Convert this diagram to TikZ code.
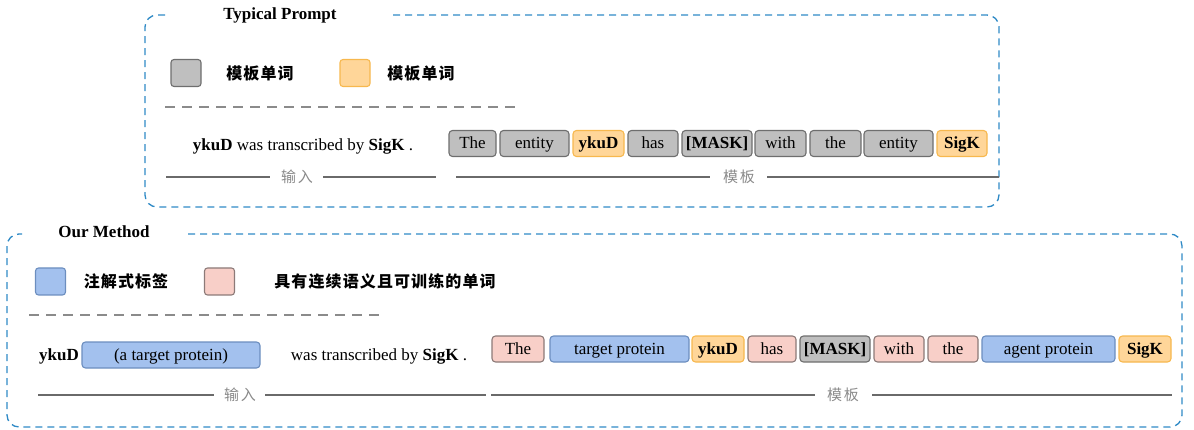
\documentclass[tikz,border=0pt]{standalone}
\usepackage{fontspec}
\setmainfont{Liberation Serif}
\newfontfamily\cjk{Noto Sans CJK SC}
\newfontfamily\cjksp[LetterSpace=7]{Noto Sans CJK SC}
\newfontfamily\cjklab[LetterSpace=12]{Noto Sans CJK SC}
\definecolor{frameblue}{HTML}{2F8AC6}
\definecolor{gfill}{HTML}{BFBFBF}
\definecolor{gdraw}{HTML}{6E6E6E}
\definecolor{ofill}{HTML}{FFD699}
\definecolor{odraw}{HTML}{F7B84E}
\definecolor{bfill}{HTML}{A3C1EE}
\definecolor{bdraw}{HTML}{6C8EBF}
\definecolor{pfill}{HTML}{F8CFC8}
\definecolor{pdraw}{HTML}{8C7A78}
\definecolor{linegray}{HTML}{6A6A6A}
\definecolor{labgray}{HTML}{8A8A8A}
\tikzset{
  frame/.style={draw=frameblue,line width=1.3pt,dash pattern=on 7pt off 5pt,rounded corners=12pt},
  title/.style={font=\fontsize{17}{20}\selectfont\bfseries,inner sep=0pt},
  tokbase/.style={rounded corners=3.5pt,line width=1.1pt,minimum height=26pt,inner sep=0pt,text height=12pt,text depth=1pt,font=\fontsize{17}{20}\selectfont},
  gtok/.style={tokbase,fill=gfill,draw=gdraw},
  otok/.style={tokbase,fill=ofill,draw=odraw,font=\fontsize{17}{20}\selectfont\bfseries},
  btok/.style={tokbase,fill=bfill,draw=bdraw},
  ptok/.style={tokbase,fill=pfill,draw=pdraw},
  legbox/.style={rounded corners=3pt,line width=1.1pt,minimum width=30pt,minimum height=27pt,inner sep=0pt},
  legtext/.style={font=\cjksp\fontsize{16}{18}\selectfont\bfseries,inner sep=0pt},
  sent/.style={font=\fontsize{17}{20}\selectfont,inner sep=0pt,text height=12pt,text depth=1pt},
  sepline/.style={draw=linegray,line width=1.1pt},
  seplab/.style={font=\cjklab\fontsize{15}{17}\selectfont,text=labgray,inner sep=0pt},
  graydash/.style={draw=gdraw!80,line width=1.4pt,dash pattern=on 10pt off 7pt}
}
\begin{document}
\begin{tikzpicture}[x=1pt,y=-1pt]
\useasboundingbox (0,0) rectangle (1194,430);
% ---------- Typical Prompt ----------
\draw[frame] (393,15) -| (999,207) -| (145,15) -- (165,15);
\node[title] (t1) at (280,15) {Typical Prompt};
\node[legbox,fill=gfill,draw=gdraw] (lg1) at (186,73) {};
\node[legtext] (lt1) at (260,73) {模板单词};
\node[legbox,fill=ofill,draw=odraw] (lg2) at (355,73) {};
\node[legtext] (lt2) at (421,73) {模板单词};
\coordinate (d1a) at (165,107);
\coordinate (d1b) at (520,107);
\draw[graydash] (d1a) -- (d1b);
\node[sent] (s1) at (303,145) {\textbf{ykuD} was transcribed by \textbf{SigK} .};
\node[gtok,minimum width=47pt] (a1) at (472.5,143.5) {The};
\node[gtok,minimum width=69pt] (a2) at (534.5,143.5) {entity};
\node[otok,minimum width=51pt] (a3) at (598.5,143.5) {ykuD};
\node[gtok,minimum width=50pt] (a4) at (653,143.5) {has};
\node[gtok,minimum width=70pt,font=\fontsize{17}{20}\selectfont\bfseries] (a5) at (717,143.5) {[MASK]};
\node[gtok,minimum width=51pt] (a6) at (780.5,143.5) {with};
\node[gtok,minimum width=51pt] (a7) at (835.5,143.5) {the};
\node[gtok,minimum width=69pt] (a8) at (898.5,143.5) {entity};
\node[otok,minimum width=50pt] (a9) at (962,143.5) {SigK};
\node[seplab] (in1) at (297,177) {输入};
\node[seplab] (tp1) at (739,177) {模板};
\coordinate (l1a) at (166,177);
\coordinate (l1b) at (436,177);
\coordinate (l1c) at (456,177);
\coordinate (l1d) at (999,177);
\draw[sepline] (l1a) -- (270,177);
\draw[sepline] (323,177) -- (l1b);
\draw[sepline] (l1c) -- (710,177);
\draw[sepline] (767,177) -- (l1d);
% ---------- Our Method ----------
\draw[frame] (188,234) -| (1182,427) -| (7,234) -- (22,234);
\node[title] (t2) at (104,232) {Our Method};
\node[legbox,fill=bfill,draw=bdraw] (lg3) at (50.5,281.5) {};
\node[legtext] (lt3) at (126,281.5) {注解式标签};
\node[legbox,fill=pfill,draw=pdraw] (lg4) at (219.5,281.5) {};
\node[legtext] (lt4) at (385,281.5) {具有连续语义且可训练的单词};
\coordinate (d2a) at (29,315);
\coordinate (d2b) at (385,315);
\draw[graydash] (d2a) -- (d2b);
\node[sent,font=\fontsize{17}{20}\selectfont\bfseries] (k2) at (59,355) {ykuD};
\node[btok,minimum width=178pt] (k3) at (171,355) {(a target protein)};
\node[sent] (s2) at (379,355) {was transcribed by \textbf{SigK} .};
\node[ptok,minimum width=52pt] (b1) at (518,349) {The};
\node[btok,minimum width=139pt] (b2) at (619.5,349) {target protein};
\node[otok,minimum width=52pt] (b3) at (718,349) {ykuD};
\node[ptok,minimum width=48pt] (b4) at (772,349) {has};
\node[gtok,minimum width=70pt,font=\fontsize{17}{20}\selectfont\bfseries] (b5) at (835,349) {[MASK]};
\node[ptok,minimum width=50pt] (b6) at (899,349) {with};
\node[ptok,minimum width=50pt] (b7) at (953,349) {the};
\node[btok,minimum width=133pt] (b8) at (1048.5,349) {agent protein};
\node[otok,minimum width=52pt] (b9) at (1145,349) {SigK};
\node[seplab] (in2) at (240,395) {输入};
\node[seplab] (tp2) at (843,395) {模板};
\coordinate (l2a) at (38,395);
\coordinate (l2b) at (486,395);
\coordinate (l2c) at (491,395);
\coordinate (l2d) at (1172,395);
\draw[sepline] (l2a) -- (214,395);
\draw[sepline] (265,395) -- (l2b);
\draw[sepline] (l2c) -- (815,395);
\draw[sepline] (872,395) -- (l2d);
\end{tikzpicture}
\end{document}
